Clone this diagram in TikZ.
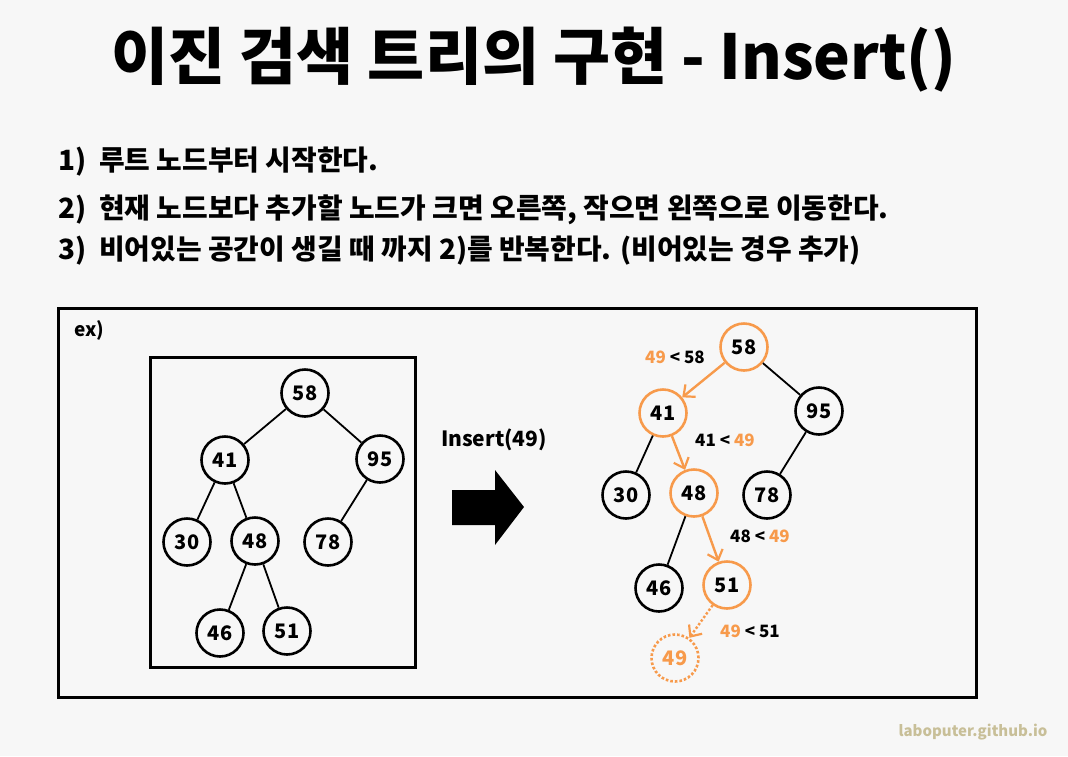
\documentclass[tikz,border=0pt]{standalone}
\usepackage{fontspec}
\setmainfont{Noto Sans CJK KR}
\usetikzlibrary{arrows.meta}
\definecolor{bg}{HTML}{F7F7F7}
\definecolor{org}{HTML}{F79A4B}
\definecolor{wm}{HTML}{C8BF98}
\tikzset{
  nd/.style={circle, draw=black, line width=2.6pt, minimum size=47pt, inner sep=0pt, font=\fontsize{20}{20}\selectfont\bfseries},
  ond/.style={nd, draw=org},
  dnd/.style={nd, draw=org, dotted, text=org, line width=2.6pt},
  ed/.style={line width=1.8pt},
  oed/.style={line width=2.4pt, draw=org, -{Straight Barb[length=9pt,width=16pt,line width=2.2pt]}},
  lbl/.style={font=\fontsize{17}{17}\selectfont\bfseries, inner sep=0pt},
  stp/.style={anchor=west, font=\fontsize{27.9}{27.9}\selectfont\bfseries, inner sep=0pt},
  box/.style={draw=black, line width=3pt}
}
\begin{document}
\begin{tikzpicture}[x=1pt,y=-1pt]
\fill[bg] (0,0) rectangle (1068,756);
\useasboundingbox (0,0) rectangle (1068,756);
% title
\node[font=\fontsize{62}{62}\selectfont\bfseries] (title) at (534,60) {이진 검색 트리의 구현 - Insert()};
% steps
\node[stp] (s1) at (58,162) {1)\ \ 루트 노드부터 시작한다.};
\node[stp] (s2) at (58,210) {2)\ \ 현재 노드보다 추가할 노드가 크면 오른쪽, 작으면 왼쪽으로 이동한다.};
\node[stp] (s3) at (58,251) {3)\ \ 비어있는 공간이 생길 때 까지 2)를 반복한다. (비어있는 경우 추가)};
% boxes
\draw[box] (58,308) rectangle (976,697);
\node[anchor=west, font=\fontsize{19}{19}\selectfont\bfseries] (ex) at (71,330) {ex)};
\draw[box] (150,357) rectangle (415,667);
% left tree
\node[nd] (a58) at (305,393) {58};
\node[nd] (a41) at (225,460) {41};
\node[nd] (a95) at (380,459) {95};
\node[nd] (a30) at (187,542) {30};
\node[nd] (a48) at (255,541) {48};
\node[nd] (a78) at (328,542) {78};
\node[nd] (a46) at (220,633) {46};
\node[nd] (a51) at (287,631) {51};
\draw[ed] (a58) -- (a41);
\draw[ed] (a58) -- (a95);
\draw[ed] (a41) -- (a30);
\draw[ed] (a41) -- (a48);
\draw[ed] (a95) -- (a78);
\draw[ed] (a48) -- (a46);
\draw[ed] (a48) -- (a51);
% big arrow
\node[font=\fontsize{21}{21}\selectfont\bfseries] (ins) at (494,440) {Insert(49)};
\fill[black] (452,490) -- (495,490) -- (495,470) -- (524,507) -- (495,545) -- (495,525) -- (452,525) -- cycle;
% right tree
\node[ond] (b58) at (744,347) {58};
\node[ond] (b41) at (663,413) {41};
\node[nd] (b95) at (819,411) {95};
\node[nd] (b30) at (626,495) {30};
\node[ond] (b48) at (694,493) {48};
\node[nd] (b78) at (767,495) {78};
\node[nd] (b46) at (659,588) {46};
\node[ond] (b51) at (727,585) {51};
\node[dnd] (b49) at (675,658) {49};
\draw[oed] (b58) -- (b41);
\draw[ed] (b58) -- (b95);
\draw[ed] (b41) -- (b30);
\draw[oed] (b41) -- (b48);
\draw[ed] (b95) -- (b78);
\draw[ed] (b48) -- (b46);
\draw[oed] (b48) -- (b51);
\draw[oed, dotted] (b51) -- (b49);
\node[lbl] (l1) at (675,357) {\textcolor{org}{49} < 58};
\node[lbl] (l2) at (725,440) {41 < \textcolor{org}{49}};
\node[lbl] (l3) at (760,536) {48 < \textcolor{org}{49}};
\node[lbl] (l4) at (750,631) {\textcolor{org}{49} < 51};
% watermark
\node[text=wm, font=\fontsize{15}{15}\selectfont\bfseries] (wmk) at (973,732) {laboputer.github.io};
\end{tikzpicture}
\end{document}
